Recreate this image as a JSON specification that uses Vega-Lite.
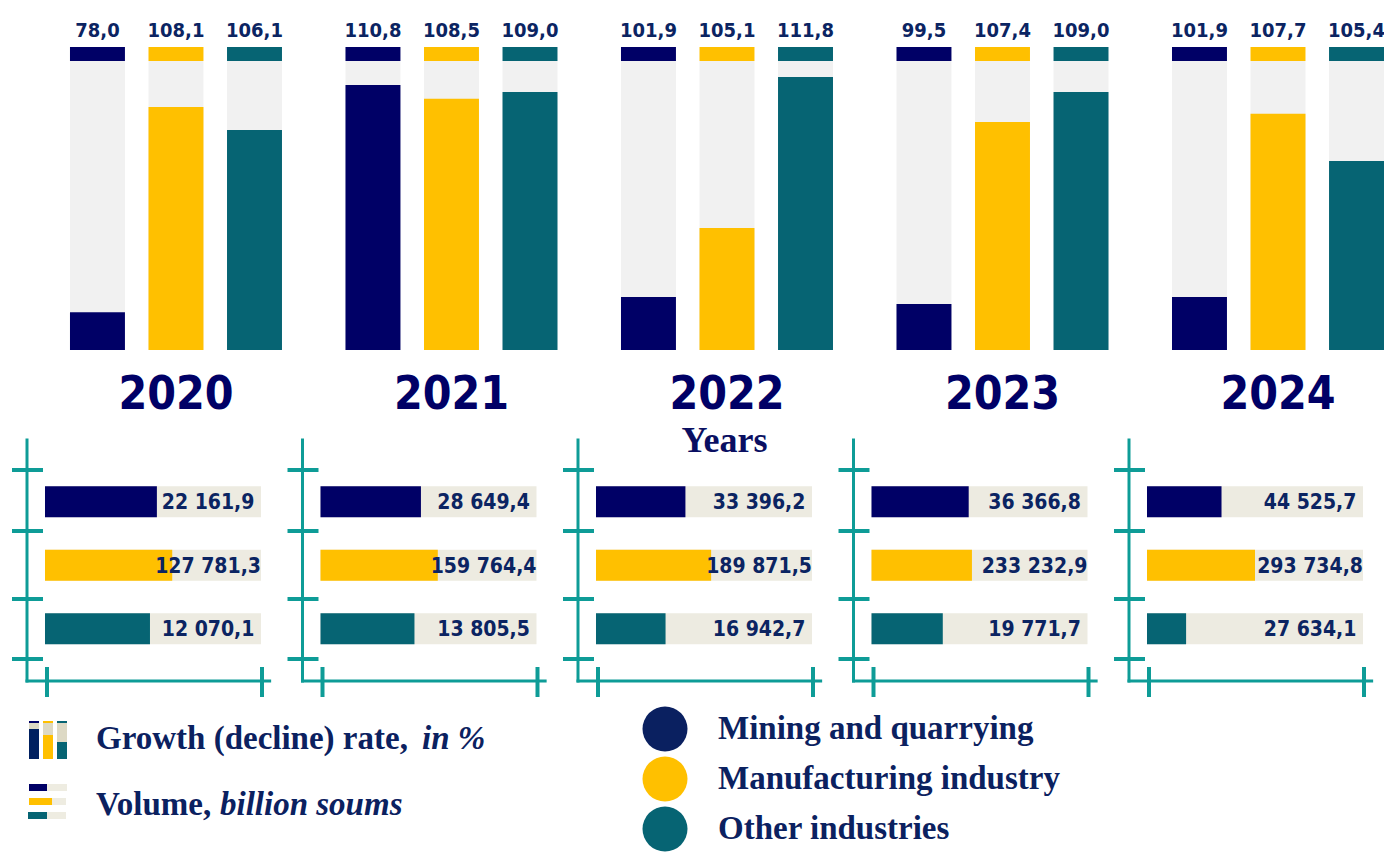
{
  "$schema": "https://vega.github.io/schema/vega-lite/v6.json",
  "padding": 0,
  "background": "white",
  "bounds": "flush",
  "spacing": 90,
  "config": {
    "view": {"stroke": null},
    "locale": {"number": {"decimal": ",", "thousands": " ", "grouping": [3], "currency": ["", ""]}}
  },
  "datasets": {
    "main": [
      {"year": "2020", "industry": "Mining and quarrying", "growth": 78.0, "growth_bar": 0.131, "volume": 22161.9, "volume_bar": 51.8},
      {"year": "2020", "industry": "Manufacturing industry", "growth": 108.1, "growth_bar": 0.841, "volume": 127781.3, "volume_bar": 58.9},
      {"year": "2020", "industry": "Other industries", "growth": 106.1, "growth_bar": 0.761, "volume": 12070.1, "volume_bar": 48.6},
      {"year": "2021", "industry": "Mining and quarrying", "growth": 110.8, "growth_bar": 0.917, "volume": 28649.4, "volume_bar": 46.5},
      {"year": "2021", "industry": "Manufacturing industry", "growth": 108.5, "growth_bar": 0.869, "volume": 159764.4, "volume_bar": 54.3},
      {"year": "2021", "industry": "Other industries", "growth": 109.0, "growth_bar": 0.893, "volume": 13805.5, "volume_bar": 43.5},
      {"year": "2022", "industry": "Mining and quarrying", "growth": 101.9, "growth_bar": 0.183, "volume": 33396.2, "volume_bar": 41.4},
      {"year": "2022", "industry": "Manufacturing industry", "growth": 105.1, "growth_bar": 0.422, "volume": 189871.5, "volume_bar": 53.3},
      {"year": "2022", "industry": "Other industries", "growth": 111.8, "growth_bar": 0.945, "volume": 16942.7, "volume_bar": 32.2},
      {"year": "2023", "industry": "Mining and quarrying", "growth": 99.5, "growth_bar": 0.159, "volume": 36366.8, "volume_bar": 45.0},
      {"year": "2023", "industry": "Manufacturing industry", "growth": 107.4, "growth_bar": 0.789, "volume": 233232.9, "volume_bar": 46.5},
      {"year": "2023", "industry": "Other industries", "growth": 109.0, "growth_bar": 0.893, "volume": 19771.7, "volume_bar": 33.0},
      {"year": "2024", "industry": "Mining and quarrying", "growth": 101.9, "growth_bar": 0.183, "volume": 44525.7, "volume_bar": 34.5},
      {"year": "2024", "industry": "Manufacturing industry", "growth": 107.7, "growth_bar": 0.817, "volume": 293734.8, "volume_bar": 50.0},
      {"year": "2024", "industry": "Other industries", "growth": 105.4, "growth_bar": 0.654, "volume": 27634.1, "volume_bar": 18.1}
    ]
  },
  "vconcat": [
    {
      "data": {"name": "main"},
      "width": 1384,
      "height": 350,
      "encoding": {
        "x": {
          "field": "year", "type": "nominal",
          "scale": {"paddingInner": 0.2305, "paddingOuter": 0.127, "align": 1},
          "axis": {
            "domain": false, "ticks": false, "tickSize": 0, "labelPadding": 22, "labelAngle": 0,
            "labelFont": "DejaVu Sans Condensed, sans-serif", "labelFontSize": 46, "labelFontWeight": "bold", "labelColor": "#000066",
            "title": "Years", "titleFont": "Liberation Serif, DejaVu Serif, serif", "titleFontSize": 36, "titleFontWeight": "bold", "titleColor": "#0A0F62",
            "titleX": 724, "titleY": 101, "titleBaseline": "alphabetic", "titleAlign": "center"
          }
        },
        "xOffset": {
          "field": "industry", "type": "nominal",
          "scale": {"domain": ["Mining and quarrying", "Manufacturing industry", "Other industries"], "paddingInner": 0.3, "paddingOuter": 0}
        }
      },
      "layer": [
        {
          "mark": {"type": "bar", "color": "#F1F1F1"},
          "encoding": {
            "y": {"datum": 0, "type": "quantitative", "scale": {"domain": [0, 1.211], "nice": false, "zero": false}, "axis": null},
            "y2": {"datum": 1}
          }
        },
        {
          "mark": {"type": "bar"},
          "encoding": {
            "y": {"field": "growth_bar", "type": "quantitative", "axis": null},
            "y2": {"datum": 0},
            "color": {"field": "industry", "type": "nominal", "scale": {"domain": ["Mining and quarrying", "Manufacturing industry", "Other industries"], "range": ["#000066", "#FFC000", "#066473"]}, "legend": null}
          }
        },
        {
          "mark": {"type": "bar"},
          "encoding": {
            "y": {"datum": 1, "type": "quantitative", "axis": null},
            "y2": {"datum": 1.048},
            "color": {"field": "industry", "type": "nominal", "legend": null}
          }
        },
        {
          "mark": {"type": "text", "baseline": "alphabetic", "align": "center", "dy": -10, "font": "DejaVu Sans Condensed, sans-serif", "fontSize": 20, "fontWeight": "bold", "color": "#0B2462"},
          "encoding": {
            "y": {"datum": 1.048, "type": "quantitative", "axis": null},
            "text": {"field": "growth", "type": "quantitative", "format": ".1f"}
          }
        }
      ]
    },
    {
      "vconcat": [
        {
          "data": {"name": "main"},
          "facet": {"column": {"field": "year", "type": "nominal", "header": null}},
          "spacing": 5.5,
          "bounds": "flush",
          "spec": {
            "width": 270,
            "height": 257,
            "layer": [
              {
                "layer": [
                  {
                    "mark": {"type": "bar", "color": "#EDEBE1", "height": {"band": 0.49}},
                    "encoding": {
                      "y": {"field": "industry", "type": "nominal", "scale": {"domain": ["Mining and quarrying", "Manufacturing industry", "Other industries"], "paddingInner": 0, "paddingOuter": 0.5236, "align": 0.451}, "axis": null},
                      "x": {"datum": 0, "type": "quantitative", "scale": {"domain": [-20.833, 104.167], "nice": false, "zero": false}, "axis": null},
                      "x2": {"datum": 100}
                    }
                  },
                  {
                    "mark": {"type": "bar", "height": {"band": 0.49}},
                    "encoding": {
                      "y": {"field": "industry", "type": "nominal", "axis": null},
                      "x": {"field": "volume_bar", "type": "quantitative", "axis": null},
                      "x2": {"datum": 0},
                      "color": {"field": "industry", "type": "nominal", "legend": null}
                    }
                  },
                  {
                    "mark": {"type": "text", "align": "center", "baseline": "middle", "dy": 1.5, "font": "DejaVu Sans Condensed, sans-serif", "fontSize": 21, "fontWeight": "bold", "color": "#0B2462"},
                    "encoding": {
                      "y": {"field": "industry", "type": "nominal", "axis": null},
                      "x": {"datum": 75.5, "type": "quantitative", "axis": null},
                      "text": {"field": "volume", "type": "quantitative", "format": ",.1f"}
                    }
                  }
                ]
              },
              {
                "transform": [{"filter": "datum.industry === 'Mining and quarrying'"}],
                "layer": [
                  {
                    "mark": {"type": "rule", "color": "#0E9C97", "strokeWidth": 3, "strokeCap": "square"},
                    "encoding": {
                      "x": {"datum": -8.333, "type": "quantitative", "axis": null},
                      "y": {"datum": 0, "type": "quantitative", "scale": {"domain": [0, 257], "reverse": true, "nice": false, "zero": false}, "axis": null},
                      "y2": {"datum": 241}
                    }
                  },
                  {
                    "mark": {"type": "rule", "color": "#0E9C97", "strokeWidth": 3, "strokeCap": "square"},
                    "encoding": {
                      "x": {"datum": -8.333, "type": "quantitative"},
                      "x2": {"datum": 104.0},
                      "y": {"datum": 241, "type": "quantitative"}
                    }
                  },
                  {
                    "mark": {"type": "rule", "color": "#0E9C97", "strokeWidth": 4},
                    "encoding": {"x": {"datum": -15.278, "type": "quantitative"}, "x2": {"datum": -0.926}, "y": {"datum": 30, "type": "quantitative"}}
                  },
                  {
                    "mark": {"type": "rule", "color": "#0E9C97", "strokeWidth": 4},
                    "encoding": {"x": {"datum": -15.278, "type": "quantitative"}, "x2": {"datum": -0.926}, "y": {"datum": 91, "type": "quantitative"}}
                  },
                  {
                    "mark": {"type": "rule", "color": "#0E9C97", "strokeWidth": 4},
                    "encoding": {"x": {"datum": -15.278, "type": "quantitative"}, "x2": {"datum": -0.926}, "y": {"datum": 159, "type": "quantitative"}}
                  },
                  {
                    "mark": {"type": "rule", "color": "#0E9C97", "strokeWidth": 4},
                    "encoding": {"x": {"datum": -15.278, "type": "quantitative"}, "x2": {"datum": -0.926}, "y": {"datum": 219, "type": "quantitative"}}
                  },
                  {
                    "mark": {"type": "rule", "color": "#0E9C97", "strokeWidth": 4},
                    "encoding": {"x": {"datum": 0.926, "type": "quantitative"}, "y": {"datum": 227, "type": "quantitative"}, "y2": {"datum": 257}}
                  },
                  {
                    "mark": {"type": "rule", "color": "#0E9C97", "strokeWidth": 4},
                    "encoding": {"x": {"datum": 100.463, "type": "quantitative"}, "y": {"datum": 227, "type": "quantitative"}, "y2": {"datum": 257}}
                  }
                ]
              }
            ],
            "resolve": {"scale": {"y": "independent"}}
          }
        },
        {
          "data": {"name": "main"},
          "transform": [{"filter": "datum.year === '2020'"}],
          "width": 1384,
          "height": 157,
          "layer": [
            {
              "layer": [
                {
                  "mark": {"type": "point", "filled": true, "shape": "circle", "size": 2025, "opacity": 1},
                  "encoding": {
                    "x": {"datum": 665, "type": "quantitative", "scale": {"domain": [0, 1384], "nice": false, "zero": false}, "axis": null},
                    "y": {"field": "industry", "type": "nominal", "scale": {"type": "band", "domain": ["Mining and quarrying", "Manufacturing industry", "Other industries"], "paddingInner": 0, "paddingOuter": 0.07, "align": 1}, "axis": null},
                    "fill": {"field": "industry", "type": "nominal", "scale": {"domain": ["Mining and quarrying", "Manufacturing industry", "Other industries"], "range": ["#0A2060", "#FFC000", "#066473"]}, "legend": null}
                  }
                },
                {
                  "mark": {"type": "text", "align": "left", "baseline": "middle", "font": "Liberation Serif, DejaVu Serif, serif", "fontSize": 33, "fontWeight": "bold", "color": "#0B2160"},
                  "encoding": {
                    "x": {"datum": 718, "type": "quantitative"},
                    "y": {"field": "industry", "type": "nominal", "axis": null},
                    "text": {"field": "industry"}
                  }
                }
              ]
            },
            {
              "transform": [{"filter": "datum.industry === 'Mining and quarrying'"}],
              "layer": [
                {"mark": {"type": "rect", "color": "#DDD9C4"}, "encoding": {"x": {"datum": 29}, "x2": {"datum": 39}, "y": {"datum": 26, "type": "quantitative", "scale": {"domain": [0, 157], "reverse": true, "nice": false, "zero": false}, "axis": null}, "y2": {"datum": 32}}},
                {"mark": {"type": "rect", "color": "#002060"}, "encoding": {"x": {"datum": 29}, "x2": {"datum": 39}, "y": {"datum": 32, "type": "quantitative"}, "y2": {"datum": 62}}},
                {"mark": {"type": "rect", "color": "#000066"}, "encoding": {"x": {"datum": 29}, "x2": {"datum": 39}, "y": {"datum": 24, "type": "quantitative"}, "y2": {"datum": 26}}},
                {"mark": {"type": "rect", "color": "#DDD9C4"}, "encoding": {"x": {"datum": 43}, "x2": {"datum": 53}, "y": {"datum": 26, "type": "quantitative"}, "y2": {"datum": 38}}},
                {"mark": {"type": "rect", "color": "#FFC000"}, "encoding": {"x": {"datum": 43}, "x2": {"datum": 53}, "y": {"datum": 38, "type": "quantitative"}, "y2": {"datum": 62}}},
                {"mark": {"type": "rect", "color": "#FFC000"}, "encoding": {"x": {"datum": 43}, "x2": {"datum": 53}, "y": {"datum": 24, "type": "quantitative"}, "y2": {"datum": 26}}},
                {"mark": {"type": "rect", "color": "#DDD9C4"}, "encoding": {"x": {"datum": 57}, "x2": {"datum": 67}, "y": {"datum": 26, "type": "quantitative"}, "y2": {"datum": 45}}},
                {"mark": {"type": "rect", "color": "#066473"}, "encoding": {"x": {"datum": 57}, "x2": {"datum": 67}, "y": {"datum": 45, "type": "quantitative"}, "y2": {"datum": 62}}},
                {"mark": {"type": "rect", "color": "#066473"}, "encoding": {"x": {"datum": 57}, "x2": {"datum": 67}, "y": {"datum": 24, "type": "quantitative"}, "y2": {"datum": 26}}},
                {"mark": {"type": "rect", "color": "#EEECE1"}, "encoding": {"x": {"datum": 29}, "x2": {"datum": 67}, "y": {"datum": 87, "type": "quantitative"}, "y2": {"datum": 94}}},
                {"mark": {"type": "rect", "color": "#000066"}, "encoding": {"x": {"datum": 29}, "x2": {"datum": 47}, "y": {"datum": 87, "type": "quantitative"}, "y2": {"datum": 94}}},
                {"mark": {"type": "rect", "color": "#EEECE1"}, "encoding": {"x": {"datum": 29}, "x2": {"datum": 66}, "y": {"datum": 101, "type": "quantitative"}, "y2": {"datum": 108}}},
                {"mark": {"type": "rect", "color": "#FFC000"}, "encoding": {"x": {"datum": 29}, "x2": {"datum": 52}, "y": {"datum": 101, "type": "quantitative"}, "y2": {"datum": 108}}},
                {"mark": {"type": "rect", "color": "#EEECE1"}, "encoding": {"x": {"datum": 28}, "x2": {"datum": 66}, "y": {"datum": 115, "type": "quantitative"}, "y2": {"datum": 122}}},
                {"mark": {"type": "rect", "color": "#066473"}, "encoding": {"x": {"datum": 28}, "x2": {"datum": 47}, "y": {"datum": 115, "type": "quantitative"}, "y2": {"datum": 122}}},
                {"mark": {"type": "text", "text": "Growth (decline) rate,", "align": "left", "baseline": "alphabetic", "font": "Liberation Serif, DejaVu Serif, serif", "fontSize": 33, "fontWeight": "bold", "color": "#0B2160"}, "encoding": {"x": {"datum": 96}, "y": {"datum": 52, "type": "quantitative"}}},
                {"mark": {"type": "text", "text": "in %", "align": "left", "baseline": "alphabetic", "font": "Liberation Serif, DejaVu Serif, serif", "fontSize": 33, "fontWeight": "bold", "fontStyle": "italic", "color": "#0B2160"}, "encoding": {"x": {"datum": 422}, "y": {"datum": 52, "type": "quantitative"}}},
                {"mark": {"type": "text", "text": "Volume,", "align": "left", "baseline": "alphabetic", "font": "Liberation Serif, DejaVu Serif, serif", "fontSize": 33, "fontWeight": "bold", "color": "#0B2160"}, "encoding": {"x": {"datum": 96}, "y": {"datum": 118, "type": "quantitative"}}},
                {"mark": {"type": "text", "text": "billion soums", "align": "left", "baseline": "alphabetic", "font": "Liberation Serif, DejaVu Serif, serif", "fontSize": 33, "fontWeight": "bold", "fontStyle": "italic", "color": "#0B2160"}, "encoding": {"x": {"datum": 220}, "y": {"datum": 118, "type": "quantitative"}}}
              ]
            }
          ],
          "resolve": {"scale": {"y": "independent"}}
        }
      ],
      "spacing": 257,
      "bounds": "flush"
    }
  ]
}
